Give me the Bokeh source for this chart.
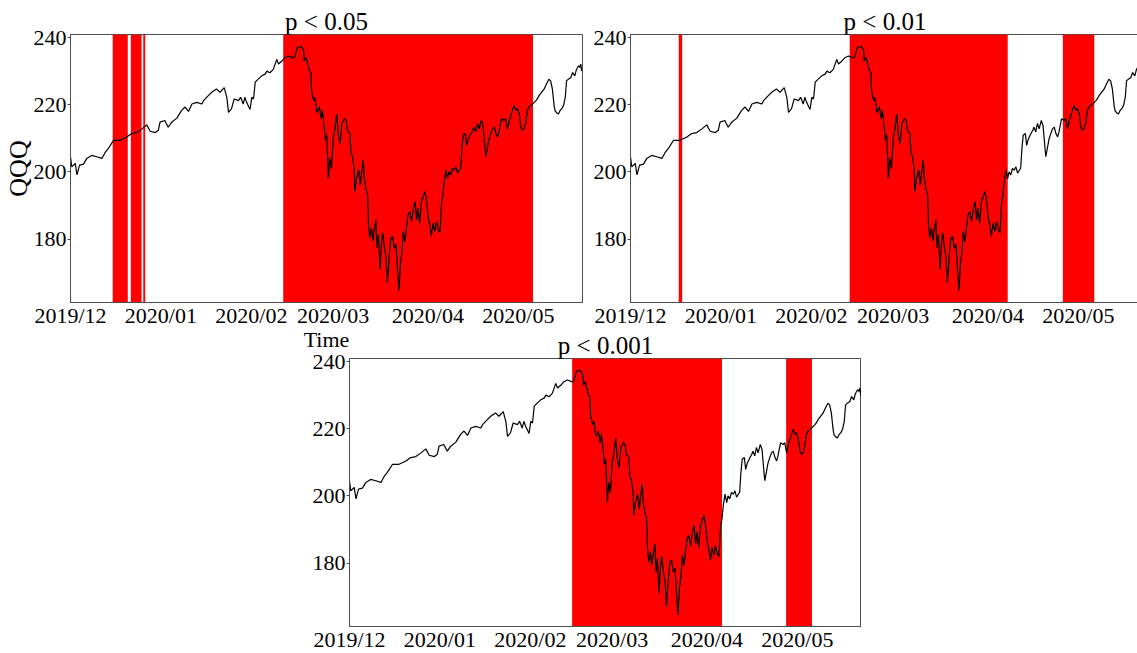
from bokeh.plotting import figure
from bokeh.models import Range1d, FixedTicker, ColumnDataSource
from bokeh.layouts import column, row
from bokeh.embed import file_html
from bokeh.resources import INLINE

# ---- data (x = trading-day index since 2019-12-02) ----
t_index = [0.0, 0.3, 1.1, 1.5, 2.1, 3.0, 3.8, 4.9, 6.1, 7.3, 8.1, 8.8, 10.0, 11.5, 13.1,
           14.2, 15.4, 16.6, 17.7, 18.5, 19.7, 20.4, 20.8, 21.9, 22.7, 23.5, 24.7, 25.8,
           26.6, 27.4, 28.2, 29.3, 30.5, 30.9, 32.0, 32.8, 33.9, 34.7, 35.7, 36.3, 36.7,
           37.4, 38.0, 39.0, 39.5, 40.1, 40.5, 40.9, 41.7, 42.1, 42.5, 42.9, 43.6, 44.4,
           45.2, 45.6, 46.3, 47.1, 47.9, 48.3, 49.1, 49.8, 50.6, 51.6,
           52.0, 52.7, 53.5, 54.1, 54.3, 54.7, 55.1, 55.5, 55.8, 56.0, 56.5, 56.8, 57.2,
           57.8, 58.2, 58.5, 58.9, 59.2, 59.5, 59.9, 60.2, 60.6, 61.0, 61.4, 61.8, 62.2,
           62.6, 63.0, 63.6, 64.0, 64.3, 64.9, 65.1, 65.5, 65.9, 66.0, 66.4, 66.9, 67.3,
           67.6, 68.0, 68.2, 68.6, 69.0, 69.2, 69.5, 69.9, 70.2, 70.5, 70.9, 71.2, 71.5,
           71.9, 72.2, 72.5, 72.9, 73.3, 73.6, 74.0, 74.4, 74.8, 75.2, 75.6, 75.9, 76.3,
           76.6, 77.0, 77.3, 77.7, 78.0, 78.4, 78.8, 79.2, 79.6, 80.0, 80.4, 80.7, 81.1,
           81.5, 81.9, 82.3, 82.7, 83.1, 83.5, 83.8, 84.2, 84.6, 85.0, 85.4, 85.8, 86.2,
           86.5, 86.8, 87.2, 87.6, 87.9, 88.3, 88.7, 89.1, 89.5, 89.9, 90.3, 90.6, 90.9,
           91.2, 91.7, 92.0, 92.4, 93.0, 93.4, 93.7, 94.1, 94.5, 94.9, 95.4, 95.8, 96.2,
           96.45, 96.8, 97.2, 97.6, 98.0, 98.4, 98.8, 99.2, 99.5, 100.1, 100.7, 101.1,
           101.5, 102.0, 102.5, 103.0, 103.4, 103.8, 104.2, 104.6, 105.0, 105.3, 105.7,
           106.1, 106.5, 106.9, 107.3, 107.7, 108.1, 108.4, 108.8, 109.4, 110.0, 110.5,
           111.1, 111.5, 111.9, 112.3, 112.5, 112.8, 113.3, 113.7, 114.1, 114.5, 114.9,
           115.2, 115.6, 116.2, 116.6, 117.1, 117.5, 118.0, 118.3, 118.5, 118.7]
qqq_price = [204.5, 201.5, 202.5, 199.1, 202.0, 202.3, 204.0, 204.9, 204.5, 204.0, 205.9, 207.0,
             209.4, 209.4, 210.4, 211.4, 211.7, 212.8, 214.0, 212.1, 211.7, 212.4, 214.8,
             215.3, 213.3, 214.8, 216.0, 218.3, 219.3, 218.0, 220.2, 220.7, 220.2, 221.2,
             222.7, 223.7, 224.7, 223.7, 225.1, 222.2, 217.7, 218.8, 221.7, 221.2, 222.2,
             220.2, 222.2, 220.7, 218.6, 222.2, 221.7, 226.7, 227.6, 228.6, 229.1, 230.0,
             229.5, 230.5, 233.5, 232.1, 233.0, 234.0, 234.5, 234.0,
             234.0, 237.0, 237.4, 236.5, 233.0, 234.0, 232.1, 230.0, 229.6, 223.7, 221.2,
             222.1, 217.7, 219.3, 215.8, 218.3, 213.8, 209.4, 210.9, 198.0, 204.0, 201.0,
             209.8, 212.8, 217.2, 210.9, 208.4, 214.4, 215.8, 215.3, 212.4, 211.4, 205.9,
             204.5, 200.5, 194.2, 198.0, 200.5, 196.1, 200.0, 203.5, 198.0, 195.1, 193.1,
             184.3, 180.3, 183.3, 179.4, 182.3, 185.7, 177.3, 181.3, 171.0, 178.4, 181.9,
             177.4, 174.5, 167.1, 174.5, 180.3, 180.8, 177.3, 178.4, 171.5, 164.6, 172.4,
             176.4, 182.3, 179.3, 183.3, 187.3, 188.2, 185.2, 188.7, 191.2, 185.7, 189.2,
             184.7, 191.2, 192.6, 194.2, 191.2, 186.2, 183.8, 180.8, 184.7, 182.3, 185.2,
             182.8, 181.9, 191.2, 193.1, 197.1, 200.5, 198.0, 200.0, 199.1, 201.0, 200.5,
             201.5, 199.6, 200.5, 201.0, 207.0, 210.9, 211.4, 207.9, 209.8, 211.4, 212.3,
             213.3, 211.9, 214.4, 212.8, 215.3, 213.8, 207.9, 204.5, 207.0, 209.8, 211.4,
             212.8, 213.3, 211.4, 210.4, 211.9, 215.8, 215.3, 215.8, 212.8, 215.8, 217.7,
             219.8, 218.3, 218.8, 217.2, 213.3, 212.3, 212.8, 214.4, 218.3, 219.3, 219.8,
             220.2, 220.7, 221.2, 221.7, 222.7, 223.7, 224.7, 226.1, 227.6, 227.1, 224.7,
             219.8, 218.3, 217.7, 217.2, 218.3, 218.8, 219.8, 222.2, 227.1, 227.6, 228.1,
             229.6, 228.6, 230.5, 231.6, 231.1, 232.1, 230.0]

# significant periods (start / end, trading-day index)
p05_start = [9.8, 14.0, 16.9, 49.4]
p05_end = [13.3, 16.5, 17.35, 107.4]
p01_start = [11.2, 50.9, 100.4]
p01_end = [12.0, 87.6, 107.7]
p001_start = [51.7, 101.4]
p001_end = [86.5, 107.4]

month_ticks = [0, 21, 42, 61, 83, 104]
month_labels = ["2019/12", "2020/01", "2020/02", "2020/03", "2020/04", "2020/05"]
price_ticks = [180, 200, 220, 240]
titles = ["p < 0.05", "p < 0.01", "p < 0.001"]

Y_MIN, Y_MAX = 161.1, 240.9
X_MAX = 118.9
FONT = "Liberation Serif"
PX_PER_DAY = 512 / X_MAX
FRAME_H = 268
EDGE = "#4d4d4d"


def make_panel(title, starts, ends, frame_w, x_end, left, right, top, bottom, margin=None):
    kw = {}
    if margin is not None:
        kw["margin"] = margin
    p = figure(frame_width=frame_w, frame_height=FRAME_H, output_backend="svg",
               toolbar_location=None, x_range=Range1d(0, x_end),
               y_range=Range1d(Y_MIN, Y_MAX), min_border_left=left,
               min_border_right=right, min_border_top=top, min_border_bottom=bottom, **kw)
    p.title.text = title
    p.title.text_font = FONT
    p.title.text_font_size = "25px"
    p.title.text_font_style = "normal"
    p.title.text_color = "black"
    p.title.align = "center"
    p.title.standoff = 0
    p.title.offset = 0
    p.xgrid.visible = False
    p.ygrid.visible = False
    p.outline_line_color = EDGE
    p.outline_line_alpha = 1
    p.outline_line_width = 1
    for ax in (p.xaxis[0], p.yaxis[0]):
        ax.major_label_text_font = FONT
        ax.major_label_text_font_size = "22px"
        ax.major_label_text_color = "black"
        ax.major_tick_out = 0
        ax.major_tick_in = 0
        ax.minor_tick_out = 0
        ax.minor_tick_in = 0
        ax.axis_line_color = EDGE
        ax.major_tick_line_color = EDGE
        ax.axis_label_text_font = FONT
        ax.axis_label_text_font_style = "normal"
        ax.axis_label_text_color = "black"
    p.xaxis.ticker = FixedTicker(ticks=month_ticks)
    p.xaxis.major_label_overrides = {t: l for t, l in zip(month_ticks, month_labels)}
    p.xaxis.major_label_standoff = 0
    p.yaxis.ticker = FixedTicker(ticks=price_ticks)
    p.yaxis.major_tick_out = 3
    p.yaxis.major_label_standoff = 1
    spans = ColumnDataSource(dict(left=starts, right=ends,
                                  bottom=[Y_MIN] * len(starts), top=[Y_MAX] * len(starts)))
    p.quad(left="left", right="right", bottom="bottom", top="top", source=spans,
           fill_color="#ff0000", line_color=None)
    p.line(t_index, qqq_price, line_color="black", line_width=1.2)
    return p


p1 = make_panel(titles[0], p05_start, p05_end, 512, X_MAX, 61, 8, 34, 24)
p1.yaxis.axis_label = "QQQ"
p1.yaxis.axis_label_text_font_size = "26px"
p1.yaxis.axis_label_standoff = -2
p1.xaxis.axis_label = "Time"
p1.xaxis.axis_label_text_font_size = "22px"
p1.xaxis.axis_label_standoff = -4

# second panel runs to the right edge of the window, like the (cropped) original
p2 = make_panel(titles[1], p01_start, p01_end, 509, 509 / PX_PER_DAY, 38, 0, 34, 24,
                margin=(0, -8, 0, 0))

# third panel is pulled up so that its title shares the band with the "Time" label
p3 = make_panel(titles[2], p001_start, p001_end, 512, X_MAX, 349, 0, 30, 24,
                margin=(-26, 0, -13, 0))
p3.border_fill_alpha = 0

layout = column(row(p1, p2), p3)
open("out.html", "w").write(file_html(layout, INLINE))
